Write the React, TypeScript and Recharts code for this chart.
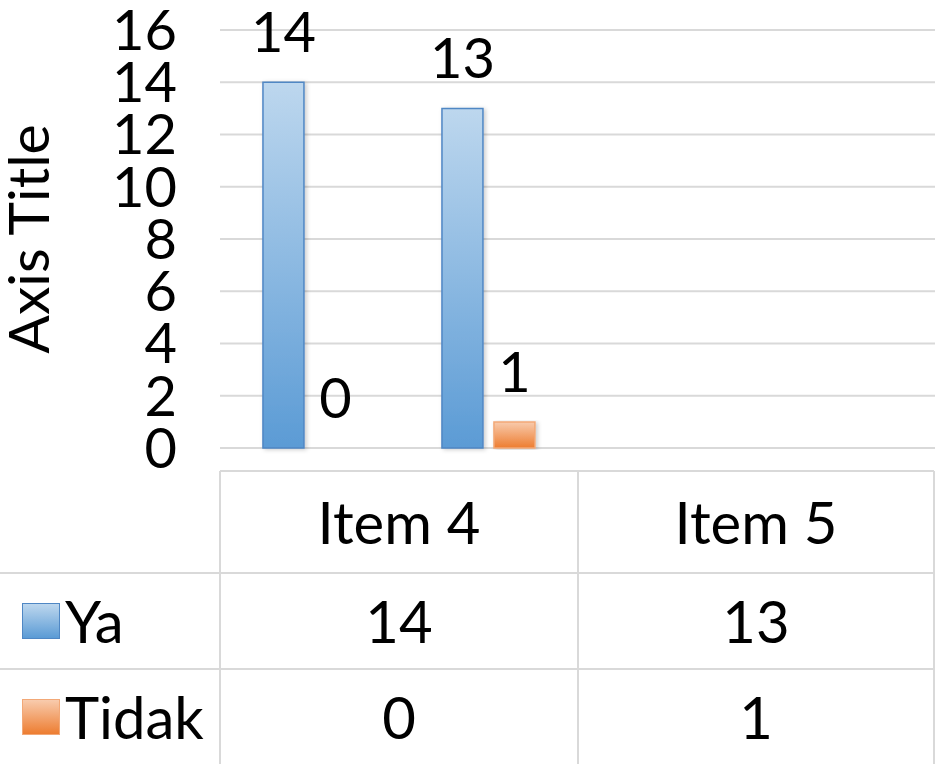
import React from "react";
import { BarChart, Bar, XAxis, YAxis, CartesianGrid, LabelList, Label, Rectangle } from "recharts";

const categories = ["Item 4", "Item 5"];
const yaValues = [14, 13];
const tidakValues = [0, 1];
const yTicks = [0, 2, 4, 6, 8, 10, 12, 14, 16];
const seriesNames = ["Ya", "Tidak"];

const data = categories.map((item, i) => ({
  item,
  Ya: yaValues[i],
  Tidak: tidakValues[i],
}));

const tableRows = [yaValues, tidakValues];

const FONT = "Lato, 'Open Sans', sans-serif";
const GRID = "#d9d9d9";

const STYLE: Record<string, { top: string; bottom: string; stroke: string }> = {
  Ya: { top: "#bdd7ee", bottom: "#5b9bd5", stroke: "#4f87c4" },
  Tidak: { top: "#f8cbad", bottom: "#ed7d31", stroke: "#f2a877" },
};

// table geometry (data table under the plot)
const colEdges = [0, 220, 578, 934];
const rowEdges = [471, 573, 669, 764];

const hLine = (x1: number, x2: number, y: number, k: string) => (
  <div
    key={k}
    style={{ position: "absolute", left: x1, top: y - 1, width: x2 - x1, height: 2, background: GRID }}
  />
);
const vLine = (x: number, y1: number, y2: number, k: string) => (
  <div
    key={k}
    style={{ position: "absolute", left: x - 1, top: y1, width: 2, height: y2 - y1, background: GRID }}
  />
);

const Cell = ({ x1, x2, y1, y2, children, align = "center" }: any) => (
  <div
    style={{
      position: "absolute",
      left: x1,
      top: y1,
      width: x2 - x1,
      height: y2 - y1,
      display: "flex",
      alignItems: "center",
      justifyContent: align,
      fontFamily: FONT,
      fontSize: 58,
      color: "#000",
      lineHeight: 1,
    }}
  >
    {children}
  </div>
);

const DataTable = () => (
  <>
    {hLine(colEdges[1], colEdges[3], rowEdges[0], "h0")}
    {hLine(0, colEdges[3], rowEdges[1], "h1")}
    {hLine(0, colEdges[3], rowEdges[2], "h2")}
    {vLine(colEdges[1], rowEdges[0], rowEdges[3], "v1")}
    {vLine(colEdges[2], rowEdges[0], rowEdges[3], "v2")}
    {vLine(colEdges[3], rowEdges[0], rowEdges[3], "v3")}
    {categories.map((c, i) => (
      <Cell key={c} x1={colEdges[i + 1]} x2={colEdges[i + 2]} y1={rowEdges[0]} y2={rowEdges[1]}>
        {c}
      </Cell>
    ))}
    {seriesNames.map((name, r) => (
      <React.Fragment key={name}>
        <Cell x1={0} x2={colEdges[1]} y1={rowEdges[r + 1]} y2={rowEdges[r + 2]} align="flex-start">
          <span
            style={{
              display: "inline-block",
              width: 38,
              height: 36,
              marginLeft: 22,
              marginRight: 5,
              boxSizing: "border-box",
              border: `1px solid ${STYLE[name].stroke}`,
              background: `linear-gradient(${STYLE[name].top}, ${STYLE[name].bottom})`,
            }}
          />
          {name}
        </Cell>
        {tableRows[r].map((v, i) => (
          <Cell key={i} x1={colEdges[i + 1]} x2={colEdges[i + 2]} y1={rowEdges[r + 1]} y2={rowEdges[r + 2]}>
            {v}
          </Cell>
        ))}
      </React.Fragment>
    ))}
  </>
);

const AxisTitle = ({ viewBox }: any) => {
  const cy = viewBox.y + viewBox.height / 2;
  const x = 49;
  return (
    <text
      x={x}
      y={cy}
      transform={`rotate(-90, ${x}, ${cy})`}
      textAnchor="middle"
      fontFamily={FONT}
      fontSize={57}
      fill="#000"
    >
      Axis Title
    </text>
  );
};

// zero-valued bars keep their label but draw no rectangle
const BarShape = (props: any) =>
  props.height < 0.5 ? <g /> : <Rectangle {...props} />;

export default function App() {
  return (
    <div style={{ position: "absolute", left: 0, top: 0, width: 935, height: 764, background: "#fff" }}>
      <BarChart
        width={935}
        height={764}
        data={data}
        margin={{ top: 30, right: 0, bottom: 316, left: 0 }}
        barCategoryGap="24%"
        barGap={11}
      >
        <defs>
          {seriesNames.map((name) => (
            <linearGradient key={name} id={`grad${name}`} x1="0" y1="0" x2="0" y2="1">
              <stop offset="0%" stopColor={STYLE[name].top} />
              <stop offset="100%" stopColor={STYLE[name].bottom} />
            </linearGradient>
          ))}
          <filter id="barShadow" x="-20%" y="-5%" width="150%" height="110%">
            <feDropShadow dx="2" dy="1" stdDeviation="2" floodColor="#000" floodOpacity="0.2" />
          </filter>
        </defs>
        <CartesianGrid vertical={false} stroke={GRID} strokeWidth={2} />
        <XAxis dataKey="item" hide height={0} padding={{ left: 0, right: 357 }} />
        <YAxis
          width={220}
          domain={[0, 16]}
          ticks={yTicks}
          interval={0}
          axisLine={false}
          tickLine={false}
          tickSize={0}
          tickMargin={43}
          tick={{ fill: "#000", fontFamily: FONT, fontSize: 56 }}
        >
          <Label content={AxisTitle} />
        </YAxis>
        {seriesNames.map((name) => (
          <Bar
            key={name}
            dataKey={name}
            fill={`url(#grad${name})`}
            stroke={STYLE[name].stroke}
            strokeWidth={1.5}
            filter="url(#barShadow)"
            minPointSize={(v: number) => (v === 0 ? 0.01 : 0)}
            shape={BarShape}
            isAnimationActive={false}
          >
            <LabelList
              dataKey={name}
              position="top"
              offset={30}
              fill="#000"
              fontFamily={FONT}
              fontSize={56}
            />
          </Bar>
        ))}
      </BarChart>
      <DataTable />
    </div>
  );
}
